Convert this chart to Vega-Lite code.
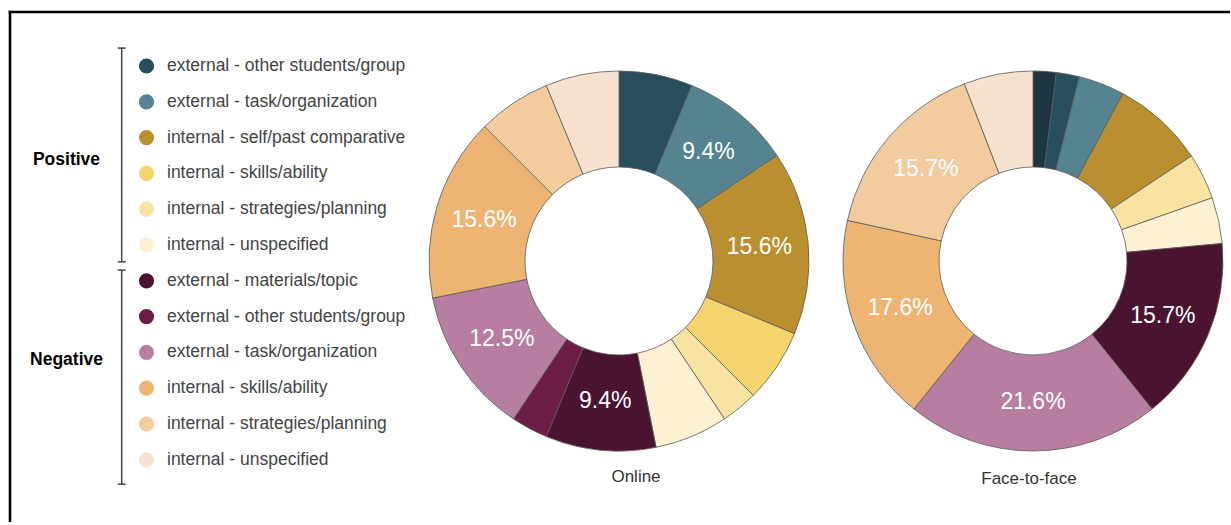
{
  "$schema": "https://vega.github.io/schema/vega-lite/v6.json",
  "padding": 5,
  "bounds": "flush",
  "spacing": 30,
  "background": "white",
  "config": {"view": {"stroke": null}, "font": "Liberation Sans"},
  "datasets": {
    "online": [
      {"cat": "Positive: external - other students/group", "seq": 2, "n": 2, "pct": 0.0625},
      {"cat": "Positive: external - task/organization", "seq": 3, "n": 3, "pct": 0.094},
      {"cat": "Positive: internal - self/past comparative", "seq": 4, "n": 5, "pct": 0.156},
      {"cat": "Positive: internal - skills/ability", "seq": 5, "n": 2, "pct": 0.0625},
      {"cat": "Positive: internal - strategies/planning", "seq": 6, "n": 1, "pct": 0.031},
      {"cat": "Positive: internal - unspecified", "seq": 7, "n": 2, "pct": 0.0625},
      {"cat": "Negative: external - materials/topic", "seq": 8, "n": 3, "pct": 0.094},
      {"cat": "Negative: external - other students/group", "seq": 9, "n": 1, "pct": 0.031},
      {"cat": "Negative: external - task/organization", "seq": 10, "n": 4, "pct": 0.125},
      {"cat": "Negative: internal - skills/ability", "seq": 11, "n": 5, "pct": 0.156},
      {"cat": "Negative: internal - strategies/planning", "seq": 12, "n": 2, "pct": 0.0625},
      {"cat": "Negative: internal - unspecified", "seq": 13, "n": 2, "pct": 0.0625}
    ],
    "f2f": [
      {"cat": "Positive: external - materials/topic", "seq": 1, "n": 1, "pct": 0.02},
      {"cat": "Positive: external - other students/group", "seq": 2, "n": 1, "pct": 0.02},
      {"cat": "Positive: external - task/organization", "seq": 3, "n": 2, "pct": 0.039},
      {"cat": "Positive: internal - self/past comparative", "seq": 4, "n": 4, "pct": 0.078},
      {"cat": "Positive: internal - strategies/planning", "seq": 6, "n": 2, "pct": 0.039},
      {"cat": "Positive: internal - unspecified", "seq": 7, "n": 2, "pct": 0.039},
      {"cat": "Negative: external - materials/topic", "seq": 8, "n": 8, "pct": 0.157},
      {"cat": "Negative: external - task/organization", "seq": 10, "n": 11, "pct": 0.216},
      {"cat": "Negative: internal - skills/ability", "seq": 11, "n": 9, "pct": 0.176},
      {"cat": "Negative: internal - strategies/planning", "seq": 12, "n": 8, "pct": 0.157},
      {"cat": "Negative: internal - unspecified", "seq": 13, "n": 3, "pct": 0.059}
    ],
    "legend": [
      {"cat": "Positive: external - other students/group", "label": "external - other students/group", "row": 1},
      {"cat": "Positive: external - task/organization", "label": "external - task/organization", "row": 2},
      {"cat": "Positive: internal - self/past comparative", "label": "internal - self/past comparative", "row": 3},
      {"cat": "Positive: internal - skills/ability", "label": "internal - skills/ability", "row": 4},
      {"cat": "Positive: internal - strategies/planning", "label": "internal - strategies/planning", "row": 5},
      {"cat": "Positive: internal - unspecified", "label": "internal - unspecified", "row": 6},
      {"cat": "Negative: external - materials/topic", "label": "external - materials/topic", "row": 7},
      {"cat": "Negative: external - other students/group", "label": "external - other students/group", "row": 8},
      {"cat": "Negative: external - task/organization", "label": "external - task/organization", "row": 9},
      {"cat": "Negative: internal - skills/ability", "label": "internal - skills/ability", "row": 10},
      {"cat": "Negative: internal - strategies/planning", "label": "internal - strategies/planning", "row": 11},
      {"cat": "Negative: internal - unspecified", "label": "internal - unspecified", "row": 12}
    ],
    "brackets": [
      {"group": "Positive", "top": 0.5, "bottom": 6.47, "mid": 3.63},
      {"group": "Negative", "top": 6.7, "bottom": 12.68, "mid": 9.21}
    ]
  },
  "hconcat": [
    {
      "width": 392,
      "height": 512,
      "layer": [
        {
          "data": {"values": [{}]},
          "mark": {"type": "rule", "color": "#000000", "strokeWidth": 2.6},
          "encoding": {"x": {"value": 3.7}, "x2": {"value": 1225}, "y": {"value": 7}}
        },
        {
          "data": {"values": [{}]},
          "mark": {"type": "rule", "color": "#000000", "strokeWidth": 2.6},
          "encoding": {"x": {"value": 5}, "y": {"value": 5.7}, "y2": {"value": 517}}
        },
        {
          "data": {"name": "brackets"},
          "mark": {"type": "rule", "color": "#444444", "strokeWidth": 1.5},
          "encoding": {
            "x": {"value": 116.7},
            "y": {"field": "top", "type": "quantitative", "scale": {"domain": [-0.704, 13.598], "reverse": true, "nice": false, "zero": false}, "axis": null},
            "y2": {"field": "bottom"}
          }
        },
        {
          "data": {"name": "brackets"},
          "mark": {"type": "rule", "color": "#444444", "strokeWidth": 1.5},
          "encoding": {
            "x": {"value": 112.7},
            "x2": {"value": 120.7},
            "y": {"field": "top", "type": "quantitative", "scale": {"domain": [-0.704, 13.598], "reverse": true, "nice": false, "zero": false}, "axis": null}
          }
        },
        {
          "data": {"name": "brackets"},
          "mark": {"type": "rule", "color": "#444444", "strokeWidth": 1.5},
          "encoding": {
            "x": {"value": 112.7},
            "x2": {"value": 120.7},
            "y": {"field": "bottom", "type": "quantitative", "scale": {"domain": [-0.704, 13.598], "reverse": true, "nice": false, "zero": false}, "axis": null}
          }
        },
        {
          "data": {"name": "brackets"},
          "mark": {"type": "text", "fontSize": 17.5, "fontWeight": "bold", "color": "#000000", "align": "center", "baseline": "middle"},
          "encoding": {
            "x": {"value": 61.5},
            "y": {"field": "mid", "type": "quantitative", "scale": {"domain": [-0.704, 13.598], "reverse": true, "nice": false, "zero": false}, "axis": null},
            "text": {"field": "group"}
          }
        },
        {
          "data": {"name": "legend"},
          "mark": {"type": "point", "filled": true, "opacity": 1, "size": 230},
          "encoding": {
            "x": {"value": 141.5},
            "y": {"field": "row", "type": "quantitative", "scale": {"domain": [-0.704, 13.598], "reverse": true, "nice": false, "zero": false}, "axis": null},
            "color": {
              "field": "cat", "type": "nominal", "legend": null,
              "scale": {
                "domain": ["Positive: external - materials/topic", "Positive: external - other students/group", "Positive: external - task/organization", "Positive: internal - self/past comparative", "Positive: internal - skills/ability", "Positive: internal - strategies/planning", "Positive: internal - unspecified", "Negative: external - materials/topic", "Negative: external - other students/group", "Negative: external - task/organization", "Negative: internal - skills/ability", "Negative: internal - strategies/planning", "Negative: internal - unspecified"],
                "range": ["#1d3541", "#264e5d", "#55838f", "#b98f2f", "#f4d46c", "#f7e3a2", "#fcf1d2", "#4a1430", "#6b1d46", "#b87ea2", "#eeb473", "#f2cc9f", "#f7e2d0"]
              }
            }
          }
        },
        {
          "data": {"name": "legend"},
          "mark": {"type": "text", "fontSize": 17.5, "color": "#444444", "align": "left", "baseline": "middle"},
          "encoding": {
            "x": {"value": 162},
            "y": {"field": "row", "type": "quantitative", "scale": {"domain": [-0.704, 13.598], "reverse": true, "nice": false, "zero": false}, "axis": null},
            "text": {"field": "label"}
          }
        }
      ]
    },
    {
      "width": 384,
      "height": 512,
      "data": {"name": "online"},
      "title": {"text": "Online", "orient": "bottom", "offset": -48, "dx": 17, "fontSize": 17, "fontWeight": "normal", "color": "#333333", "font": "Liberation Sans"},
      "layer": [
        {
          "mark": {"type": "arc", "outerRadius": 190, "innerRadius": 94, "stroke": "#5b5b5b", "strokeWidth": 0.8},
          "encoding": {
            "theta": {"field": "n", "type": "quantitative", "stack": true},
            "order": {"field": "seq", "type": "quantitative"},
            "color": {
              "field": "cat", "type": "nominal", "legend": null,
              "scale": {
                "domain": ["Positive: external - materials/topic", "Positive: external - other students/group", "Positive: external - task/organization", "Positive: internal - self/past comparative", "Positive: internal - skills/ability", "Positive: internal - strategies/planning", "Positive: internal - unspecified", "Negative: external - materials/topic", "Negative: external - other students/group", "Negative: external - task/organization", "Negative: internal - skills/ability", "Negative: internal - strategies/planning", "Negative: internal - unspecified"],
                "range": ["#1d3541", "#264e5d", "#55838f", "#b98f2f", "#f4d46c", "#f7e3a2", "#fcf1d2", "#4a1430", "#6b1d46", "#b87ea2", "#eeb473", "#f2cc9f", "#f7e2d0"]
              }
            }
          }
        },
        {
          "mark": {"type": "text", "radius": 141, "fontSize": 23, "fill": "#ffffff", "align": "center", "baseline": "middle"},
          "encoding": {
            "theta": {"field": "n", "type": "quantitative", "stack": true},
            "order": {"field": "seq", "type": "quantitative"},
            "detail": {"field": "cat", "type": "nominal"},
            "text": {"field": "pct", "type": "quantitative", "format": ".1%", "condition": {"test": "datum.pct < 0.09", "value": ""}}
          }
        }
      ]
    },
    {
      "width": 384,
      "height": 512,
      "data": {"name": "f2f"},
      "title": {"text": "Face-to-face", "orient": "bottom", "offset": -46, "dx": -4, "fontSize": 17, "fontWeight": "normal", "color": "#333333", "font": "Liberation Sans"},
      "layer": [
        {
          "mark": {"type": "arc", "outerRadius": 190, "innerRadius": 94, "stroke": "#5b5b5b", "strokeWidth": 0.8},
          "encoding": {
            "theta": {"field": "n", "type": "quantitative", "stack": true},
            "order": {"field": "seq", "type": "quantitative"},
            "color": {
              "field": "cat", "type": "nominal", "legend": null,
              "scale": {
                "domain": ["Positive: external - materials/topic", "Positive: external - other students/group", "Positive: external - task/organization", "Positive: internal - self/past comparative", "Positive: internal - skills/ability", "Positive: internal - strategies/planning", "Positive: internal - unspecified", "Negative: external - materials/topic", "Negative: external - other students/group", "Negative: external - task/organization", "Negative: internal - skills/ability", "Negative: internal - strategies/planning", "Negative: internal - unspecified"],
                "range": ["#1d3541", "#264e5d", "#55838f", "#b98f2f", "#f4d46c", "#f7e3a2", "#fcf1d2", "#4a1430", "#6b1d46", "#b87ea2", "#eeb473", "#f2cc9f", "#f7e2d0"]
              }
            }
          }
        },
        {
          "mark": {"type": "text", "radius": 141, "fontSize": 23, "fill": "#ffffff", "align": "center", "baseline": "middle"},
          "encoding": {
            "theta": {"field": "n", "type": "quantitative", "stack": true},
            "order": {"field": "seq", "type": "quantitative"},
            "detail": {"field": "cat", "type": "nominal"},
            "text": {"field": "pct", "type": "quantitative", "format": ".1%", "condition": {"test": "datum.pct < 0.09", "value": ""}}
          }
        }
      ]
    }
  ]
}
